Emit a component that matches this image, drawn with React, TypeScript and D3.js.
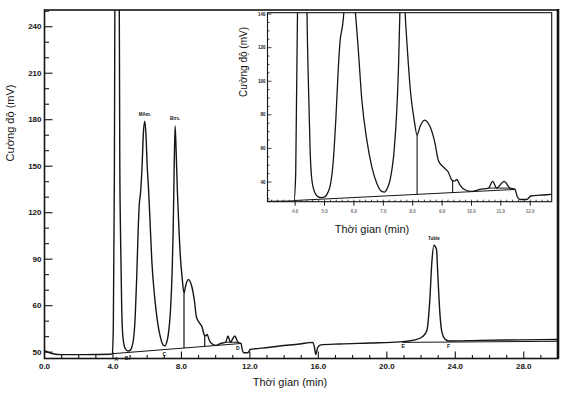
import React from "react";
import * as d3 from "d3";

// chromatogram, [time (min), signal (mV)]
const trace: [number, number][] = [
  [0, 30.9], [0.5, 29.0], [1.0, 28.4], [2.0, 28.4], [3.0, 28.5], [3.96, 28.8],
  [4.02, 45], [4.08, 140], [4.14, 330], [4.34, 330], [4.40, 150], [4.45, 100],
  [4.51, 59], [4.57, 41.2], [4.68, 33.3], [4.79, 31.2], [4.90, 30.7], [5.02, 31.3],
  [5.12, 34], [5.19, 37.5], [5.30, 53], [5.39, 79], [5.47, 108], [5.53, 124],
  [5.62, 134], [5.70, 150], [5.78, 172], [5.86, 179], [5.93, 170], [6.00, 150],
  [6.07, 137], [6.15, 118.6], [6.27, 88.8], [6.44, 65], [6.61, 49], [6.78, 39.2],
  [6.95, 34.4], [7.04, 34.0], [7.13, 36], [7.23, 41.2], [7.37, 59], [7.46, 83],
  [7.52, 110], [7.57, 145], [7.63, 176], [7.69, 160], [7.76, 135], [7.82, 118.6],
  [7.93, 93], [8.05, 77], [8.15, 68], [8.25, 73], [8.40, 76.9], [8.59, 73],
  [8.76, 63], [8.87, 53], [9.04, 49], [9.21, 46], [9.33, 41.2], [9.42, 40.5],
  [9.50, 41.5], [9.61, 38.2], [9.78, 35.4], [10.01, 34.4], [10.29, 35.6], [10.58, 36.4],
  [10.72, 40.4], [10.86, 36.4], [11.11, 40.4], [11.31, 36.4], [11.48, 35.6], [11.56, 31.3],
  [11.65, 29.6], [11.88, 29.6], [12.02, 31.7], [12.33, 32.2], [12.7, 32.6], [13.74, 34],
  [14.91, 35.3], [15.67, 36.3], [15.76, 33.7], [15.85, 28.5], [15.96, 33], [16.14, 34.7],
  [17.25, 35.3], [19.0, 35.9], [20.76, 36.6], [21.64, 37.9], [22.1, 40.1], [22.34, 44],
  [22.51, 63.4], [22.63, 88], [22.75, 99], [22.9, 96.4], [22.98, 79.6], [23.1, 55],
  [23.22, 42.7], [23.39, 38.5], [23.63, 37.2], [25.44, 37.6], [27.78, 37.9], [30, 38.2],
];

// integration baselines and drop lines
const baselines: [number, number][][] = [
  [[3.97, 29.0], [11.5, 35.6]],
  [[10.58, 36.4], [11.31, 36.4]],
  [[20.9, 36.3], [30, 37.0]],
];
const dropLines: [number, number, number][] = [
  [8.15, 68, 32.7],
  [9.36, 41, 33.7],
];

const markers = [
  { t: 4.2, v: 28.2, label: "A" },
  { t: 4.85, v: 28.6, label: "B\u2081" },
  { t: 7.0, v: 31.4, label: "C" },
  { t: 11.3, v: 35.4, label: "D" },
  { t: 20.95, v: 36.3, label: "E" },
  { t: 23.6, v: 36.8, label: "F" },
];
const peakLabels = [
  { t: 5.86, v: 179, label: "MAm." },
  { t: 7.63, v: 176, label: "Btrs." },
  { t: 22.75, v: 99, label: "Tuble" },
];

const xTicks = [0, 4, 8, 12, 16, 20, 24, 28];
const xTickLabels = ["0.0", "4.0", "8.0", "12.0", "16.0", "20.0", "24.0", "28.0"];
const yTicks = [30, 60, 90, 120, 150, 180, 210, 240];
const yTickLabels = ["50", "60", "90", "120", "150", "180", "210", "240"];

const inXTicks = [4, 5, 6, 7, 8, 9, 10, 11, 12];
const inXTickLabels = ["4.0", "5.0", "6.0", "7.0", "8.0", "9.0", "10.0", "11.0", "12.0"];
const inYTicks = [40, 60, 80, 100, 120, 140];
const inYTickLabels = ["40", "60", "80", "100", "120", "140"];

const ink = "#151515";
const sans = "'Liberation Sans', Arial, sans-serif";

export default function App() {
  const x = d3.scaleLinear().domain([0, 30]).range([44.5, 558]);
  const y = d3.scaleLinear().domain([25.9, 250.8]).range([358.5, 10]);

  const xi = d3.scaleLinear().domain([3.06, 12.73]).range([267.5, 551.7]);
  const yi = d3.scaleLinear().domain([28.3, 140.8]).range([201.7, 12.7]);

  const lineMain = d3.line<[number, number]>().x(d => x(d[0])).y(d => y(d[1])).curve(d3.curveMonotoneX);
  const lineIn = d3.line<[number, number]>().x(d => xi(d[0])).y(d => yi(d[1])).curve(d3.curveMonotoneX);
  const straightMain = d3.line<[number, number]>().x(d => x(d[0])).y(d => y(d[1]));
  const straightIn = d3.line<[number, number]>().x(d => xi(d[0])).y(d => yi(d[1]));

  const xMinor = d3.range(0, 31, 1);
  const yMinor = d3.range(30, 251, 10);
  const inXMinor = d3.range(3.2, 12.71, 0.2);
  const inYMinor = d3.range(30, 141, 5);

  const [x0, x1] = x.range();
  const [yb, yt] = y.range();
  const [ix0, ix1] = xi.range();
  const [iyb, iyt] = yi.range();

  return (
    <svg width={576} height={397} style={{ position: "absolute", left: 0, top: 0, background: "#fff" }}>
      <defs>
        <clipPath id="mainClip"><rect x={x0} y={yt} width={x1 - x0} height={yb - yt} /></clipPath>
        <clipPath id="inClip"><rect x={ix0} y={iyt} width={ix1 - ix0} height={iyb - iyt} /></clipPath>
      </defs>

      {/* main frame */}
      <rect x={x0} y={yt} width={x1 - x0} height={yb - yt} fill="none" stroke={ink} strokeWidth={1.6} />
      <line x1={x1} x2={x1} y1={yt - 1} y2={yb} stroke={ink} strokeWidth={2.6} />

      {/* main x ticks */}
      {xMinor.map(t => (
        <line key={"xm" + t} x1={x(t)} x2={x(t)} y1={yb} y2={yb - (t % 4 === 0 ? 7 : 3.5)} stroke={ink} strokeWidth={1.1} />
      ))}
      {xTicks.map((t, i) => (
        <text key={"xl" + t} x={x(t)} y={yb + 8} textAnchor="middle" dominantBaseline="central"
          fontFamily={sans} fontWeight="bold" fontSize={8} fill={ink}>{xTickLabels[i]}</text>
      ))}

      {/* main y ticks */}
      {yMinor.map(v => (
        <line key={"ym" + v} x1={x0} x2={x0 + (v % 30 === 0 ? 8 : 4.5)} y1={y(v)} y2={y(v)} stroke={ink} strokeWidth={1.1} />
      ))}
      {yTicks.map((v, i) => (
        <text key={"yl" + v} x={x0 - 3} y={y(v)} textAnchor="end" dominantBaseline="central"
          fontFamily={sans} fontWeight="bold" fontSize={8} fill={ink}>{yTickLabels[i]}</text>
      ))}

      <text x={290} y={386} textAnchor="middle" fontFamily={sans} fontSize={11} fill={ink}>Thời gian (min)</text>
      <text transform="translate(14,123) rotate(-90)" textAnchor="middle" fontFamily={sans} fontSize={11} fill={ink}>Cường độ (mV)</text>

      <g clipPath="url(#mainClip)">
        {baselines.map((b, i) => (
          <path key={"bl" + i} d={straightMain(b) || ""} fill="none" stroke={ink} strokeWidth={1} />
        ))}
        {dropLines.map((d, i) => (
          <line key={"dl" + i} x1={x(d[0])} x2={x(d[0])} y1={y(d[1])} y2={y(d[2])} stroke={ink} strokeWidth={1.2} />
        ))}
        <path d={lineMain(trace) || ""} fill="none" stroke={ink} strokeWidth={1.4} strokeLinejoin="round" />
      </g>

      {markers.map(m => (
        <text key={m.label} x={x(m.t)} y={y(m.v) + 4} textAnchor="middle" dominantBaseline="central"
          fontFamily={sans} fontWeight="bold" fontSize={5} fill={ink}>{m.label}</text>
      ))}
      {peakLabels.map(p => (
        <text key={p.label} x={x(p.t)} y={y(p.v) - 7} textAnchor="middle" dominantBaseline="central"
          fontFamily={sans} fontWeight="bold" fontSize={4.5} fill={ink}>{p.label}</text>
      ))}

      {/* inset */}
      <rect x={ix0} y={iyt} width={ix1 - ix0} height={iyb - iyt} fill="#fff" stroke={ink} strokeWidth={1.1} />
      {inXMinor.map(t => (
        <line key={"ixm" + t} x1={xi(t)} x2={xi(t)} y1={iyb} y2={iyb - 2} stroke={ink} strokeWidth={0.8} />
      ))}
      {inXTicks.map((t, i) => (
        <g key={"ixl" + t}>
          <line x1={xi(t)} x2={xi(t)} y1={iyb} y2={iyb + 4} stroke={ink} strokeWidth={1} />
          <text x={xi(t)} y={iyb + 10} textAnchor="middle" dominantBaseline="central"
            fontFamily={sans} fontWeight="bold" fontSize={4.5} fill="#777">{inXTickLabels[i]}</text>
        </g>
      ))}
      {inYMinor.map(v => (
        <line key={"iym" + v} x1={ix0} x2={ix0 + (v % 20 === 0 ? 4 : 2)} y1={yi(v)} y2={yi(v)} stroke={ink} strokeWidth={0.8} />
      ))}
      {inYTicks.map((v, i) => (
        <text key={"iyl" + v} x={ix0 - 2} y={yi(v)} textAnchor="end" dominantBaseline="central"
          fontFamily={sans} fontWeight="bold" fontSize={4.5} fill={ink}>{inYTickLabels[i]}</text>
      ))}
      <g clipPath="url(#inClip)">
        {baselines.map((b, i) => (
          <path key={"ibl" + i} d={straightIn(b) || ""} fill="none" stroke={ink} strokeWidth={1} />
        ))}
        {dropLines.map((d, i) => (
          <line key={"idl" + i} x1={xi(d[0])} x2={xi(d[0])} y1={yi(d[1])} y2={yi(d[2])} stroke={ink} strokeWidth={1.1} />
        ))}
        <path d={lineIn(trace) || ""} fill="none" stroke={ink} strokeWidth={1.3} strokeLinejoin="round" />
      </g>
      <text x={372} y={233} textAnchor="middle" fontFamily={sans} fontSize={11} fill={ink}>Thời gian (min)</text>
      <text transform="translate(247,62) rotate(-90)" textAnchor="middle" fontFamily={sans} fontSize={10} fill={ink}>Cường độ (mV)</text>
    </svg>
  );
}
